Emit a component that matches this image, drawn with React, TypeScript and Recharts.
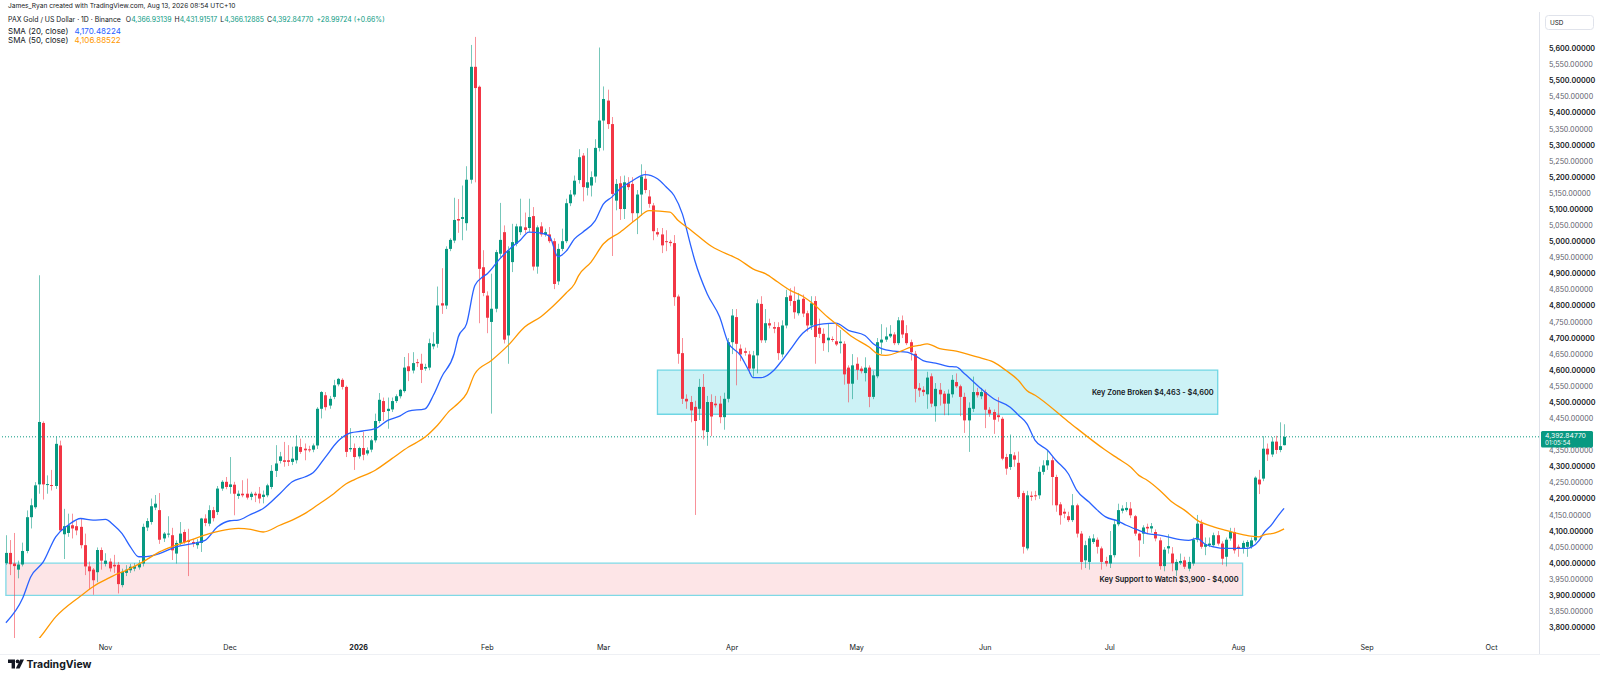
import React from "react";
import {
  ComposedChart,
  Bar,
  Line,
  XAxis,
  YAxis,
  ReferenceArea,
  ReferenceLine,
} from "recharts";

// daily candles, [open, high, low, close], first one is 2025-10-08
const oct2025 = [
  [4000, 4087, 3995, 4032], [4032, 4072, 3963, 3997], [3999, 4094, 3766, 3991], [3980, 4008, 3953, 3996],
  [3996, 4064, 3990, 4038], [4038, 4164, 4031, 4143], [4143, 4201, 4108, 4180], [4174, 4252, 4169, 4242],
  [4245, 4895, 4216, 4439], [4436, 4441, 4198, 4245], [4243, 4273, 4216, 4246], [4243, 4290, 4226, 4240],
  [4240, 4393, 4231, 4371], [4366, 4381, 4097, 4102], [4090, 4169, 4013, 4115], [4094, 4154, 4082, 4118],
  [4118, 4154, 4077, 4108], [4115, 4133, 4087, 4102], [4113, 4138, 4046, 4056], [4056, 4092, 3963, 3990],
  [3990, 4005, 3918, 3975], [3980, 3985, 3902, 3947], [3972, 4049, 3941, 4041], [4041, 4049, 3980, 4008],
];
const nov2025 = [
  [3998, 4031, 3990, 4008], [4005, 4015, 3974, 3984], [3995, 4026, 3970, 3990], [3995, 4004, 3906, 3935],
  [3932, 3983, 3925, 3973], [3970, 3994, 3960, 3980], [3978, 3998, 3970, 3989], [3983, 4000, 3975, 3991],
  [3987, 4010, 3980, 3999], [3999, 4123, 3990, 4113], [4111, 4140, 4100, 4131], [4128, 4201, 4120, 4177],
  [4173, 4212, 4165, 4185], [4165, 4218, 4060, 4073], [4077, 4097, 4066, 4092], [4090, 4146, 4080, 4092],
  [4087, 4110, 4010, 4040], [4030, 4071, 3999, 4063], [4063, 4128, 4055, 4092], [4097, 4105, 4060, 4066],
  [4071, 4107, 3960, 4066], [4066, 4075, 4050, 4061], [4056, 4075, 4045, 4066], [4063, 4141, 4035, 4139],
  [4139, 4152, 4115, 4125], [4123, 4180, 4115, 4165], [4165, 4175, 4130, 4140], [4159, 4240, 4150, 4232],
  [4232, 4258, 4225, 4253], [4253, 4268, 4230, 4237],
];
const dec2025 = [
  [4237, 4330, 4216, 4245], [4244, 4253, 4149, 4216], [4209, 4226, 4200, 4216], [4216, 4258, 4205, 4211],
  [4216, 4263, 4198, 4204], [4206, 4222, 4196, 4216], [4216, 4222, 4190, 4211], [4216, 4237, 4186, 4201],
  [4206, 4226, 4186, 4213], [4211, 4247, 4205, 4242], [4237, 4305, 4230, 4287], [4287, 4367, 4268, 4310],
  [4318, 4346, 4310, 4332], [4320, 4377, 4300, 4315], [4320, 4367, 4302, 4315], [4315, 4362, 4305, 4325],
  [4320, 4398, 4310, 4363], [4361, 4387, 4340, 4346], [4356, 4372, 4320, 4351], [4354, 4365, 4345, 4351],
  [4353, 4372, 4345, 4366], [4366, 4485, 4355, 4480], [4480, 4535, 4450, 4532], [4522, 4532, 4475, 4485],
  [4490, 4520, 4480, 4511], [4517, 4570, 4510, 4553], [4556, 4576, 4550, 4573], [4570, 4575, 4540, 4548],
  [4548, 4552, 4330, 4346], [4354, 4420, 4346, 4358], [4358, 4372, 4290, 4330],
];
const jan2026 = [
  [4332, 4362, 4325, 4358], [4358, 4408, 4320, 4337], [4341, 4360, 4335, 4351], [4353, 4387, 4345, 4382],
  [4382, 4465, 4375, 4442], [4442, 4529, 4435, 4508], [4504, 4515, 4442, 4470], [4473, 4515, 4418, 4480],
  [4478, 4515, 4470, 4504], [4504, 4525, 4498, 4519], [4519, 4542, 4512, 4539], [4535, 4641, 4530, 4608],
  [4612, 4653, 4566, 4597], [4599, 4656, 4590, 4622], [4625, 4635, 4610, 4622], [4620, 4651, 4560, 4601],
  [4605, 4620, 4598, 4610], [4608, 4698, 4600, 4684], [4674, 4718, 4665, 4682], [4682, 4860, 4670, 4801],
  [4808, 4917, 4775, 4801], [4801, 4985, 4790, 4977], [4977, 5010, 4970, 5005], [5003, 5136, 4995, 5067],
  [5070, 5132, 5027, 5065], [5070, 5174, 5004, 5076], [5057, 5234, 5034, 5192], [5192, 5611, 5180, 5543],
  [5543, 5636, 5184, 5477], [5481, 5485, 4746, 4915], [4920, 4973, 4830, 4840],
];
const feb2026 = [
  [4832, 4845, 4715, 4763], [4750, 4900, 4465, 4791], [4791, 4974, 4780, 4967], [4962, 5120, 4950, 5005],
  [5029, 5050, 4683, 4695], [4708, 4985, 4620, 4972], [4936, 5055, 4905, 4998], [4993, 5055, 4985, 5047],
  [5029, 5133, 5020, 5047], [5044, 5090, 5025, 5036], [5042, 5133, 5030, 5076], [5079, 5107, 4910, 4922],
  [4922, 5050, 4900, 5044], [5047, 5060, 5015, 5022], [5022, 5040, 5015, 5029], [5022, 5045, 4995, 5001],
  [5001, 5010, 4852, 4868], [4876, 4993, 4865, 4977], [4977, 5040, 4970, 5001], [5001, 5133, 4995, 5119],
  [5119, 5160, 5110, 5146], [5146, 5205, 5140, 5189], [5191, 5287, 5180, 5262], [5267, 5275, 5125, 5169],
  [5167, 5290, 5143, 5184], [5174, 5218, 5140, 5200], [5202, 5318, 5183, 5291], [5291, 5603, 5280, 5376],
];
const mar2026 = [
  [5376, 5482, 5283, 5443], [5438, 5472, 5350, 5365], [5365, 5387, 4955, 5148], [5127, 5194, 5097, 5179],
  [5181, 5203, 5067, 5101], [5101, 5205, 5070, 5184], [5181, 5200, 5160, 5169], [5179, 5200, 5060, 5088],
  [5088, 5160, 5023, 5146], [5146, 5240, 5080, 5202], [5195, 5220, 5150, 5160], [5140, 5160, 5105, 5117],
  [5112, 5120, 5004, 5032], [5029, 5042, 5015, 5022], [5022, 5042, 4964, 4988], [5001, 5035, 4970, 4998],
  [4999, 5005, 4985, 4995], [4995, 5020, 4800, 4827], [4829, 4835, 4620, 4651], [4653, 4700, 4495, 4511],
  [4511, 4525, 4480, 4503], [4501, 4520, 4438, 4475], [4486, 4505, 4150, 4442], [4480, 4573, 4445, 4548],
  [4548, 4588, 4385, 4413], [4408, 4520, 4365, 4501], [4501, 4525, 4395, 4456], [4496, 4520, 4484, 4491],
  [4496, 4520, 4435, 4454], [4454, 4530, 4415, 4511], [4511, 4700, 4500, 4687],
];
const apr2026 = [
  [4687, 4790, 4650, 4770], [4765, 4790, 4553, 4682], [4667, 4680, 4628, 4649], [4659, 4670, 4645, 4654],
  [4649, 4660, 4590, 4605], [4605, 4660, 4580, 4646], [4646, 4820, 4590, 4808], [4806, 4830, 4685, 4693],
  [4693, 4790, 4685, 4746], [4746, 4760, 4730, 4739], [4734, 4750, 4715, 4729], [4734, 4749, 4632, 4653],
  [4649, 4755, 4640, 4739], [4739, 4850, 4730, 4827], [4832, 4855, 4800, 4815], [4815, 4860, 4760, 4780],
  [4777, 4840, 4770, 4819], [4822, 4835, 4765, 4776], [4777, 4785, 4720, 4739], [4739, 4830, 4725, 4808],
  [4815, 4830, 4620, 4703], [4732, 4760, 4700, 4713], [4713, 4730, 4660, 4684], [4693, 4744, 4656, 4701],
  [4697, 4705, 4688, 4695], [4690, 4744, 4675, 4680], [4684, 4725, 4652, 4689], [4682, 4690, 4555, 4587],
  [4608, 4615, 4500, 4558], [4558, 4650, 4510, 4615],
];
const may2026 = [
  [4620, 4640, 4570, 4601], [4605, 4612, 4590, 4597], [4591, 4640, 4565, 4608], [4608, 4615, 4485, 4517],
  [4517, 4598, 4510, 4584], [4581, 4700, 4575, 4687], [4686, 4743, 4650, 4695], [4695, 4733, 4688, 4705],
  [4705, 4740, 4700, 4713], [4711, 4718, 4678, 4684], [4684, 4765, 4678, 4755], [4755, 4770, 4700, 4711],
  [4715, 4740, 4678, 4684], [4687, 4695, 4630, 4656], [4651, 4660, 4500, 4542], [4545, 4560, 4517, 4537],
  [4539, 4550, 4520, 4532], [4525, 4595, 4480, 4577], [4581, 4590, 4485, 4496], [4488, 4560, 4440, 4542],
  [4539, 4560, 4490, 4525], [4527, 4535, 4460, 4496], [4496, 4540, 4460, 4527], [4525, 4585, 4515, 4570],
  [4563, 4590, 4545, 4550], [4550, 4555, 4457, 4517], [4517, 4530, 4405, 4444], [4444, 4500, 4346, 4483],
  [4480, 4580, 4470, 4532], [4532, 4545, 4515, 4522], [4519, 4545, 4510, 4532],
];
const jun2026 = [
  [4532, 4540, 4420, 4477], [4477, 4485, 4455, 4465], [4470, 4478, 4402, 4446], [4460, 4516, 4440, 4454],
  [4449, 4455, 4320, 4325], [4330, 4340, 4275, 4294], [4299, 4400, 4290, 4339], [4335, 4345, 4300, 4322],
  [4312, 4347, 4200, 4206], [4218, 4225, 4030, 4051], [4046, 4225, 4040, 4211], [4210, 4223, 4194, 4206],
  [4211, 4225, 4196, 4208], [4211, 4300, 4200, 4284], [4284, 4320, 4275, 4304], [4304, 4350, 4290, 4320],
  [4320, 4330, 4180, 4268], [4268, 4275, 4160, 4180], [4183, 4190, 4120, 4149], [4160, 4170, 4140, 4154],
  [4146, 4160, 4128, 4134], [4134, 4215, 4128, 4180], [4180, 4185, 4080, 4092], [4092, 4100, 3980, 4004],
  [4009, 4070, 3985, 4056], [4004, 4085, 3980, 4077], [4066, 4090, 4060, 4077], [4073, 4080, 4030, 4051],
  [4046, 4052, 3980, 4004], [4007, 4020, 3990, 3999],
];
const jul2026 = [
  [3999, 4100, 3985, 4025], [4025, 4135, 4018, 4121], [4121, 4185, 4115, 4165], [4163, 4180, 4155, 4170],
  [4165, 4190, 4160, 4172], [4170, 4190, 4140, 4149], [4146, 4150, 4085, 4092], [4092, 4095, 4020, 4071],
  [4092, 4118, 4060, 4111], [4113, 4123, 4092, 4108], [4108, 4125, 4095, 4115], [4097, 4105, 4068, 4077],
  [4071, 4080, 3980, 3991], [3991, 4050, 3975, 4042], [4046, 4090, 4030, 4053], [4030, 4050, 3975, 4000],
  [3978, 4012, 3960, 4004], [4001, 4030, 3995, 4007], [4009, 4020, 3982, 3989], [3983, 4020, 3975, 4004],
  [3999, 4080, 3992, 4073], [4073, 4150, 4065, 4123], [4123, 4135, 4045, 4051], [4051, 4080, 4025, 4059],
  [4056, 4080, 4050, 4061], [4056, 4095, 4050, 4087], [4087, 4100, 4055, 4061], [4061, 4068, 3995, 4014],
  [4020, 4080, 3990, 4073], [4077, 4110, 4070, 4097], [4097, 4110, 4030, 4040],
];
const aug2026 = [
  [4051, 4058, 4020, 4046], [4046, 4070, 4030, 4063], [4051, 4072, 4020, 4066], [4051, 4080, 4045, 4071],
  [4071, 4270, 4065, 4266], [4260, 4290, 4215, 4245], [4263, 4395, 4255, 4356], [4356, 4372, 4318, 4338],
  [4338, 4392, 4330, 4378], [4378, 4396, 4340, 4352], [4352, 4438, 4345, 4363.85],
  [4366.93139, 4431.91517, 4366.12885, 4392.8477],
];

// moving averages: [day index, value]
const sma20Points = [
  [0, 3815], [4, 3890], [6, 3958], [9, 4004], [12, 4082], [15, 4118], [18, 4139], [21, 4134],
  [24, 4136], [26, 4118], [28, 4092], [30, 4051], [32, 4020], [33, 4020], [37, 4030], [41, 4051],
  [45, 4061], [48, 4071], [51, 4113], [54, 4132], [56, 4134], [59, 4152], [62, 4170], [66, 4216],
  [69, 4253], [72, 4268], [74, 4281], [77, 4330], [80, 4379], [83, 4405], [86, 4411], [89, 4418],
  [92, 4444], [95, 4458], [97, 4473], [101, 4480], [103, 4522], [105, 4579], [108, 4651], [109, 4703],
  [111, 4744], [113, 4863], [115, 4891], [116, 4900], [119, 4946], [121, 4972], [124, 5005], [126, 5029],
  [129, 5026], [131, 5016], [133, 4953], [135, 4970], [137, 5008], [139, 5029], [142, 5065], [144, 5117],
  [146, 5138], [148, 5164], [151, 5189], [154, 5208], [157, 5195], [159, 5171], [161, 5143], [163, 5086],
  [165, 4988], [166, 4941], [169, 4837], [172, 4765], [174, 4687], [177, 4646], [179, 4599], [180, 4577],
  [182, 4577], [185, 4599], [187, 4630], [189, 4664], [192, 4715], [194, 4734], [197, 4744], [200, 4746],
  [203, 4724], [207, 4708], [209, 4682], [211, 4667], [214, 4659], [217, 4656], [219, 4646], [221, 4630],
  [224, 4622], [227, 4612], [229, 4610], [231, 4589], [235, 4542], [238, 4511], [242, 4485], [244, 4460],
  [246, 4434], [248, 4382], [251, 4351], [253, 4320], [256, 4278], [258, 4227], [261, 4190], [263, 4165],
  [265, 4144], [268, 4131], [270, 4118], [273, 4102], [275, 4092], [278, 4087], [280, 4082], [283, 4073],
  [285, 4071], [287, 4077], [289, 4059], [291, 4051], [294, 4046], [296, 4046], [299, 4046], [300, 4049],
  [302, 4071], [303, 4092], [305, 4120], [306, 4138], [307, 4155], [308, 4170.48224],
];
const sma50Points = [
  [5, 3730], [8, 3766], [12, 3833], [18, 3898], [21, 3927], [25, 3955], [27, 3968], [29, 3978],
  [33, 4004], [37, 4035], [41, 4056], [45, 4074], [49, 4092], [54, 4106], [56, 4108], [59, 4105],
  [62, 4097], [66, 4118], [69, 4134], [72, 4154], [75, 4180], [79, 4216], [82, 4247], [84, 4260],
  [89, 4289], [93, 4325], [97, 4361], [101, 4392], [104, 4429], [107, 4475], [109, 4497], [111, 4527],
  [113, 4589], [117, 4630], [121, 4677], [125, 4734], [129, 4767], [132, 4801], [135, 4840], [137, 4868],
  [138, 4894], [141, 4936], [144, 4993], [148, 5029], [152, 5070], [155, 5096], [160, 5091], [162, 5065],
  [165, 5036], [170, 4985], [177, 4941], [180, 4915], [183, 4900], [186, 4874], [189, 4848], [192, 4830],
  [195, 4801], [198, 4765], [201, 4734], [204, 4703], [208, 4672], [210, 4651], [212, 4646], [216, 4661],
  [218, 4672], [220, 4677], [222, 4682], [225, 4667], [229, 4659], [234, 4641], [238, 4625], [241, 4599],
  [244, 4568], [246, 4537], [248, 4522], [256, 4440], [265, 4351], [268, 4325], [271, 4299], [273, 4273],
  [275, 4258], [278, 4227], [281, 4190], [284, 4165], [287, 4134], [291, 4113], [294, 4102], [297, 4092],
  [300, 4084], [302, 4082], [303, 4087], [306, 4095], [308, 4106.88522],
];

const monthTicks = [24, 54, 85, 116, 144, 175, 205, 236, 266, 297, 328, 358];
const monthLabels = ["Nov", "Dec", "2026", "Feb", "Mar", "Apr", "May", "Jun", "Jul", "Aug", "Sep", "Oct"];
// 4,400 sits under the last-price badge, so it is left out
const priceTicks = [
  3800, 3850, 3900, 3950, 4000, 4050, 4100, 4150, 4200, 4250, 4300, 4350, 4450, 4500, 4550,
  4600, 4650, 4700, 4750, 4800, 4850, 4900, 4950, 5000, 5050, 5100, 5150, 5200, 5250, 5300, 5350,
  5400, 5450, 5500, 5550, 5600,
];
const lastPrice = 4392.8477;
const keyZone = { from: 157, to: 292, low: 4463, high: 4600 };
const supportZone = { from: 0, to: 298, low: 3900, high: 4000 };

const UP = "#089981";
const DOWN = "#f23645";
const FONT = "Inter, 'Noto Sans', sans-serif";

const candles = [
  ...oct2025, ...nov2025, ...dec2025, ...jan2026, ...feb2026, ...mar2026,
  ...apr2026, ...may2026, ...jun2026, ...jul2026, ...aug2026,
];

const data: any[] = candles.map(([o, h, l, c], i) => ({ i, o, h, l, c, range: [l, h] }));
sma20Points.forEach(([i, v]) => (data[i].sma20 = v));
sma50Points.forEach(([i, v]) => (data[i].sma50 = v));

const fmtPrice = (v: number) => {
  const [int, dec] = v.toFixed(5).split(".");
  return int.replace(/\B(?=(\d{3})+(?!\d))/g, ",") + "." + dec;
};

const Candle = (props: any) => {
  const { x, y, width, height, payload } = props;
  if (!payload || x == null) return null;
  const { o, h, l, c } = payload;
  const top = Math.min(y, y + height);
  const span = Math.abs(height);
  const py = (v: number) => (h === l ? top : top + ((h - v) / (h - l)) * span);
  const color = c >= o ? UP : DOWN;
  const left = Math.round(x + width / 2 - 1.5);
  const bTop = py(Math.max(o, c));
  const bH = Math.max(1, py(Math.min(o, c)) - bTop);
  return (
    <g>
      <rect x={left + 1} y={top} width={1} height={Math.max(1, span)} fill={color} opacity={0.55} />
      <rect x={left} y={bTop} width={3} height={bH} fill={color} />
    </g>
  );
};

const PriceTick = (props: any) => {
  const { y, payload } = props;
  const v = payload.value;
  const major = v % 100 === 0;
  return (
    <text
      x={1549}
      y={y}
      dy={2.6}
      fontSize={7.2}
      fontFamily={FONT}
      fontWeight={major ? 600 : 400}
      fill={major ? "#131722" : "#5d606b"}
    >
      {fmtPrice(v)}
    </text>
  );
};

const MonthTick = (props: any) => {
  const { x, payload } = props;
  const label = monthLabels[monthTicks.indexOf(payload.value)];
  return (
    <text
      x={x}
      y={649.5}
      textAnchor="middle"
      fontSize={7.2}
      fontFamily={FONT}
      fontWeight={label === "2026" ? 700 : 400}
      fill="#131722"
    >
      {label}
    </text>
  );
};

const zoneLabel = (text: string) => (props: any) => {
  const vb = props.viewBox;
  if (!vb) return null;
  return (
    <text
      x={vb.x + vb.width - 4}
      y={vb.y + vb.height / 2}
      dy={2.6}
      textAnchor="end"
      fontSize={7.4}
      fontFamily={FONT}
      fontWeight={600}
      fill="#131722"
    >
      {text}
    </text>
  );
};

const gap = { marginLeft: 3 };

const Header = () => (
  <div style={{ position: "absolute", left: 8, top: 0, fontFamily: FONT, color: "#131722", lineHeight: 1 }}>
    <div style={{ position: "absolute", top: 2.5, fontSize: 6.6, whiteSpace: "nowrap" }}>
      James_Ryan created with TradingView.com, Aug 13, 2026 08:54 UTC+10
    </div>
    <div style={{ position: "absolute", top: 17, fontSize: 6.9, whiteSpace: "nowrap" }}>
      PAX Gold / US Dollar · 1D · Binance
      <span style={{ marginLeft: 5 }}>O</span><span style={{ color: UP }}>4,366.93139</span>
      <span style={gap}>H</span><span style={{ color: UP }}>4,431.91517</span>
      <span style={gap}>L</span><span style={{ color: UP }}>4,366.12885</span>
      <span style={gap}>C</span><span style={{ color: UP }}>4,392.84770</span>
      <span style={{ ...gap, color: UP }}>+28.99724 (+0.66%)</span>
    </div>
    <div style={{ position: "absolute", top: 26.5, fontSize: 8, whiteSpace: "nowrap" }}>
      SMA (20, close) <span style={{ color: "#2962ff", marginLeft: 4 }}>4,170.48224</span>
    </div>
    <div style={{ position: "absolute", top: 35.5, fontSize: 8, whiteSpace: "nowrap" }}>
      SMA (50, close) <span style={{ color: "#ff9800", marginLeft: 4 }}>4,106.88522</span>
    </div>
  </div>
);

const Overlay = () => (
  <svg width={1600} height={686} style={{ position: "absolute", left: 0, top: 0, pointerEvents: "none" }}>
    <line x1={1539.5} y1={12} x2={1539.5} y2={654} stroke="#e0e3eb" />
    <line x1={0} y1={654.5} x2={1600} y2={654.5} stroke="#eef0f4" />
    <rect x={1545.5} y={15.5} width={48} height={14} rx={3} fill="#fff" stroke="#e0e3eb" />
    <text x={1550} y={25} fontSize={6.4} fontFamily={FONT} fill="#131722">USD</text>
    <rect x={1541} y={431} width={52} height={16.5} rx={1.5} fill={UP} />
    <text x={1545} y={438.3} fontSize={6.8} fontFamily={FONT} fill="#fff">{fmtPrice(lastPrice)}</text>
    <text x={1545} y={445.3} fontSize={6.2} fontFamily={FONT} fill="#fff">01:05:54</text>
    <g transform="translate(8,659.5)" fill="#131722">
      <path d="M0 0 H7 V9 H3.6 V3.4 H0 Z" />
      <circle cx={9.6} cy={1.9} r={1.9} />
      <path d="M12.2 0 H16 L11.6 9 H7.8 Z" />
    </g>
    <text x={26.5} y={668} fontSize={10.5} fontWeight={700} fontFamily={FONT} fill="#131722">
      TradingView
    </text>
  </svg>
);

export default function App() {
  return (
    <div style={{ position: "absolute", left: 0, top: 0, width: 1600, height: 686, background: "#fff", overflow: "hidden" }}>
      <ComposedChart
        width={1600}
        height={686}
        data={data}
        margin={{ top: 12, right: 0, bottom: 0, left: 0 }}
      >
        <XAxis
          dataKey="i"
          type="number"
          domain={[-1.4217, 369.42]}
          allowDataOverflow
          ticks={monthTicks}
          interval={0}
          tick={MonthTick}
          axisLine={false}
          tickLine={false}
          height={48}
        />
        <YAxis
          orientation="right"
          width={61}
          domain={[3767.5, 5713.4]}
          allowDataOverflow
          ticks={priceTicks}
          interval={0}
          tick={PriceTick}
          axisLine={false}
          tickLine={false}
        />
        <ReferenceArea
          x1={supportZone.from}
          x2={supportZone.to}
          y1={supportZone.low}
          y2={supportZone.high}
          fill={DOWN}
          fillOpacity={0.13}
          stroke="#7fd9e6"
          strokeWidth={1.3}
          label={zoneLabel("Key Support to Watch $3,900 - $4,000")}
        />
        <ReferenceArea
          x1={keyZone.from}
          x2={keyZone.to}
          y1={keyZone.low}
          y2={keyZone.high}
          fill="#00bcd4"
          fillOpacity={0.2}
          stroke="#6fd6e4"
          strokeWidth={1.3}
          label={zoneLabel("Key Zone Broken $4,463 - $4,600")}
        />
        <ReferenceLine y={lastPrice} stroke={UP} strokeDasharray="1 2" />
        <Bar dataKey="range" barSize={3} shape={(p: any) => <Candle {...p} />} isAnimationActive={false} />
        <Line
          dataKey="sma20"
          type="monotone"
          stroke="#2962ff"
          strokeWidth={1.3}
          dot={false}
          activeDot={false}
          connectNulls
          isAnimationActive={false}
        />
        <Line
          dataKey="sma50"
          type="monotone"
          stroke="#ff9800"
          strokeWidth={1.3}
          dot={false}
          activeDot={false}
          connectNulls
          isAnimationActive={false}
        />
      </ComposedChart>
      <Header />
      <Overlay />
    </div>
  );
}
